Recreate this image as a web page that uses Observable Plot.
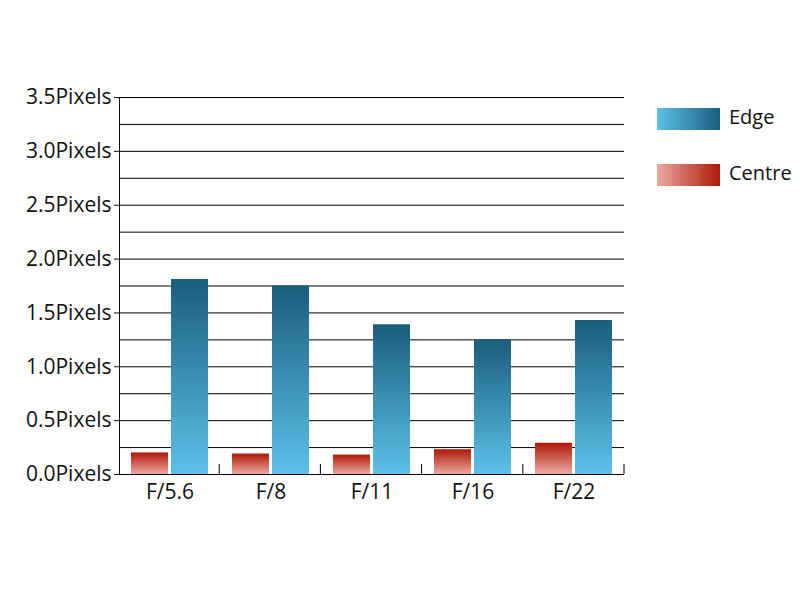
<!DOCTYPE html>
<html>
<head>
<meta charset="utf-8">
<script src="https://cdn.jsdelivr.net/npm/d3@7"></script>
<script src="https://cdn.jsdelivr.net/npm/@observablehq/plot@0.6"></script>
<style>
  html, body { margin: 0; padding: 0; background: #fff; }
  #wrap { position: relative; width: 800px; height: 600px; font-family: "Open Sans", sans-serif; }
  .leg { position: absolute; left: 657px; display: flex; align-items: center; font-size: 20px; color: #111; }
  .sw { width: 63px; height: 22px; margin-right: 9px; }
  .leg span { position: relative; top: -2px; }
</style>
</head>
<body>
<div id="wrap"></div>
<script>
const apertures = ["F/5.6", "F/8", "F/11", "F/16", "F/22"];
const edgeValues = [1.81, 1.75, 1.39, 1.25, 1.43];
const centreValues = [0.20, 0.19, 0.18, 0.23, 0.29];
const seriesNames = ["Centre", "Edge"];
const yTickValues = [0, 0.5, 1.0, 1.5, 2.0, 2.5, 3.0, 3.5];
const gridValues = [0, 0.25, 0.5, 0.75, 1.0, 1.25, 1.5, 1.75, 2.0, 2.25, 2.5, 2.75, 3.0, 3.25, 3.5];

const edgeColors = ["#1a5d7c", "#5cc1ea"];   // top, bottom
const centreColors = ["#ae1808", "#eda9a0"]; // top, bottom

const data = apertures.flatMap((a, i) => [
  {aperture: a, series: "Centre", value: centreValues[i]},
  {aperture: a, series: "Edge", value: edgeValues[i]}
]);

const plot = Plot.plot({
  width: 800,
  height: 600,
  marginLeft: 118,
  marginRight: 176,
  marginTop: 97,
  marginBottom: 126,
  style: {fontFamily: "Open Sans, sans-serif", fontSize: "21px", color: "#111", background: "transparent"},
  facet: {data, x: "aperture"},
  fx: {domain: apertures, padding: 0, label: null, tickSize: 0, tickPadding: 10, axis: "bottom"},
  x: {domain: seriesNames, paddingInner: 0.08, paddingOuter: 0.3, axis: null},
  y: {domain: [0, 3.5], ticks: yTickValues, tickFormat: d => d.toFixed(1) + "Pixels", tickSize: 5, tickPadding: 3, label: null, line: true},
  color: {type: "identity"},
  marks: [
    Plot.ruleY(gridValues, {stroke: "#000", strokeWidth: 1}),
    Plot.barY(data, {x: "series", y: "value", fill: d => d.series === "Edge" ? "url(#gradEdge)" : "url(#gradCentre)"})
  ]
});

const svg = d3.select(plot);
const defs = svg.insert("defs", ":first-child");
function grad(id, colors) {
  const g = defs.append("linearGradient").attr("id", id).attr("x1", 0).attr("y1", 0).attr("x2", 0).attr("y2", 1);
  g.append("stop").attr("offset", "0%").attr("stop-color", colors[0]);
  g.append("stop").attr("offset", "100%").attr("stop-color", colors[1]);
}
grad("gradEdge", edgeColors);
grad("gradCentre", centreColors);

// boundary ticks between groups, built from the library's fx and y scales
const fxS = plot.scale("fx");
const yS = plot.scale("y");
const band = d3.scaleBand().domain(fxS.domain).range(fxS.range).padding(0);
const y0 = d3.max(yS.range);
const bx = fxS.domain.slice(1).map(v => band(v)).concat([band(fxS.domain[fxS.domain.length - 1]) + band.bandwidth()]);
svg.append("g").selectAll("line").data(bx).join("line")
  .attr("x1", d => d).attr("x2", d => d)
  .attr("y1", y0).attr("y2", y0 - 10)
  .attr("stroke", "#000").attr("stroke-width", 1);

const wrap = document.getElementById("wrap");
wrap.appendChild(plot);

const legendItems = [
  {name: "Edge", colors: edgeColors, top: 105},
  {name: "Centre", colors: centreColors, top: 161}
];
for (const it of legendItems) {
  const div = document.createElement("div");
  div.className = "leg";
  div.style.top = it.top + "px";
  const sw = document.createElement("div");
  sw.className = "sw";
  sw.style.background = `linear-gradient(to right, ${it.colors[1]}, ${it.colors[0]})`;
  const tx = document.createElement("span");
  tx.textContent = it.name;
  div.appendChild(sw);
  div.appendChild(tx);
  wrap.appendChild(div);
}
</script>
</body>
</html>
